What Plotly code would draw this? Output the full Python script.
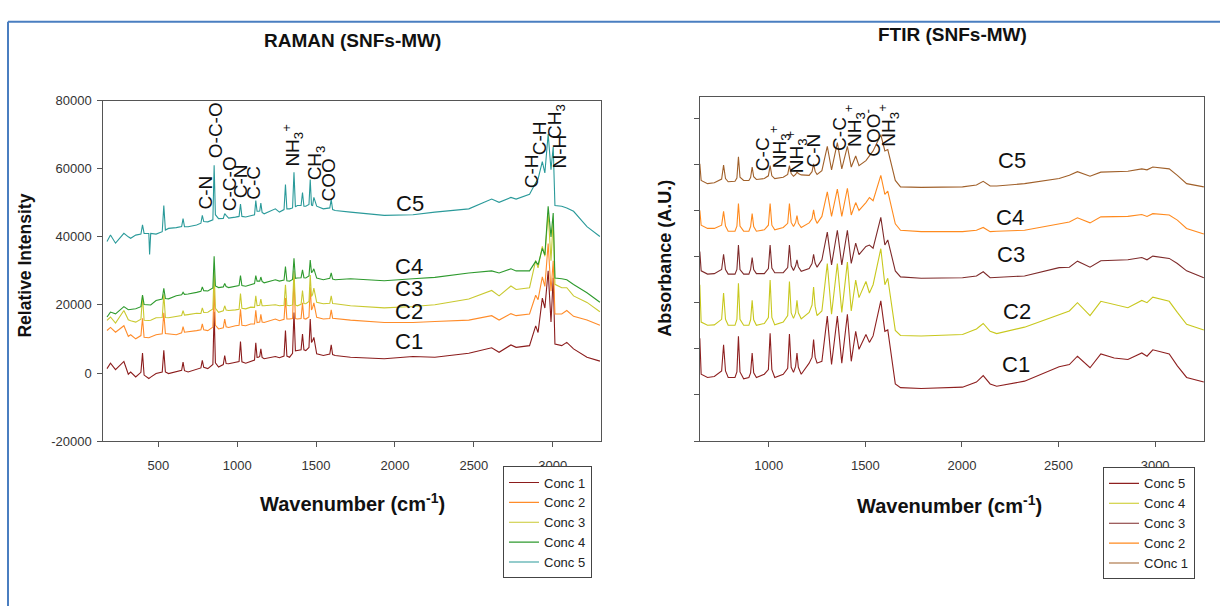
import plotly.graph_objects as go

W, H = 1220, 614

# ---------------- RAMAN spectra (wavenumber grid shared by all five samples)
RAMAN_WN = [
    175, 197, 229, 282, 310, 325, 357, 390, 400, 410,
    440, 445, 452, 486, 525, 535, 545, 565, 614, 648,
    657, 666, 689, 743, 770, 779, 788, 814, 846, 854,
    862, 882, 912, 921, 930, 946, 989, 1012, 1021, 1030,
    1054, 1086, 1110, 1118, 1126, 1135, 1143, 1150, 1158, 1171,
    1242, 1268, 1297, 1306, 1315, 1332, 1351, 1360, 1369, 1381,
    1405, 1414, 1423, 1435, 1455, 1463, 1471, 1478, 1486, 1504,
    1546, 1587, 1596, 1605, 1621, 1718, 1932, 2114, 2253, 2468,
    2613, 2660, 2735, 2768, 2853, 2892, 2907, 2934, 2950, 2971,
    2989, 3003, 3014, 3057, 3089, 3132, 3217, 3299,
]
RAMAN_C1 = [
    1300, 2900, 1000, 3400, -350, 300, -1150, 200, 5850, -600,
    -1600, -1400, -1200, -150, 300, 6650, 300, -150, 300, 800,
    3200, 700, 300, 1000, 1500, 3700, 1700, 1300, 2500, 18000,
    3000, 1750, 2500, 5150, 2800, 2750, 3200, 3400, 9250, 3300,
    2900, 3400, 3800, 8900, 4600, 4650, 4900, 7100, 4600, 4200,
    4850, 4500, 5000, 12450, 5000, 4650, 5800, 17800, 6500, 6600,
    6800, 11450, 6800, 6600, 7500, 15850, 9000, 9500, 10450, 5650,
    5150, 5600, 8250, 5400, 5150, 4650, 4200, 4850, 4650, 5800,
    7400, 6100, 8250, 7550, 8050, 13850, 11900, 22000, 19100, 30000,
    15000, 28000, 8500, 8050, 9000, 7100, 4650, 3500,
]
RAMAN_C2 = [
    12500, 13400, 12000, 13900, 10750, 11250, 10050, 11000, 16100, 10500,
    10350, 10450, 10550, 11250, 11500, 17700, 11600, 11550, 11250, 11800,
    13600, 12000, 12100, 12450, 12700, 14400, 12700, 12450, 13500, 25000,
    14000, 12950, 13300, 15850, 13600, 13400, 13900, 14000, 18700, 14000,
    13900, 14400, 14400, 18450, 14800, 14850, 15000, 17250, 15000, 14850,
    15850, 15350, 15800, 22050, 15900, 15850, 16000, 28000, 16000, 15850,
    16000, 20600, 16000, 15850, 16500, 25200, 18500, 19200, 20600, 16350,
    15850, 16000, 18550, 16100, 16050, 15550, 14850, 14850, 15150, 15550,
    16850, 15550, 17450, 16850, 17350, 22850, 21550, 28250, 25450, 38000,
    24000, 33000, 17350, 17350, 18350, 16650, 15550, 14000,
]
RAMAN_C3 = [
    15450, 16450, 14650, 18350, 15650, 15350, 14950, 15800, 22600, 15500,
    15450, 15450, 15500, 16250, 16300, 23100, 16300, 16250, 16550, 16900,
    18350, 17000, 17150, 17550, 17500, 19150, 17800, 17850, 18800, 30000,
    19000, 17850, 18300, 19750, 18500, 18350, 18550, 18700, 23350, 19000,
    18850, 19350, 19300, 22650, 19800, 19750, 19900, 21750, 19800, 19750,
    20050, 19750, 19900, 25950, 19900, 19750, 20000, 30000, 20000, 19750,
    20200, 24250, 20400, 20350, 21000, 28750, 22500, 23050, 24950, 20750,
    20350, 20500, 22650, 20400, 20350, 19750, 19150, 19550, 20050, 21750,
    24250, 22650, 25550, 24550, 25050, 33000, 30900, 37200, 34300, 47000,
    33000, 45000, 26050, 25050, 25050, 22650, 20750, 18000,
]
RAMAN_C4 = [
    16450, 17900, 17400, 19500, 18600, 18700, 18900, 19500, 22900, 20100,
    20000, 20000, 20000, 21300, 21700, 24900, 21900, 21800, 22700, 23000,
    23700, 23100, 23200, 23700, 24000, 25300, 24200, 24100, 25000, 34300,
    25600, 25100, 25300, 26300, 25400, 25100, 25500, 25700, 28600, 25700,
    25500, 26000, 26300, 28600, 27000, 27000, 27000, 28200, 26900, 26500,
    27400, 27000, 27300, 31300, 27100, 27000, 27500, 33700, 27800, 27900,
    28000, 30300, 28000, 27900, 28500, 33200, 29500, 29800, 30600, 27900,
    27400, 27800, 29400, 27600, 27400, 27700, 27100, 27700, 28100, 29400,
    30000, 29400, 30600, 30000, 30000, 32800, 31800, 36600, 34700, 49000,
    40000, 47000, 27900, 27700, 27400, 26000, 23600, 20800,
]
RAMAN_C5 = [
    38630, 40550, 38140, 41040, 40000, 39580, 40500, 40800, 43500, 41000,
    41000, 34800, 41000, 40800, 41500, 49190, 42000, 42480, 42700, 43000,
    45350, 43000, 42970, 43450, 44000, 46320, 44500, 44400, 45000, 61000,
    46500, 45350, 45400, 46800, 46300, 45500, 45800, 46000, 49650, 46000,
    45830, 46200, 46500, 50630, 47500, 47500, 47600, 49940, 47200, 46780,
    48220, 47270, 48000, 55390, 48200, 48220, 48500, 58950, 48800, 49190,
    49200, 53010, 49000, 49000, 49500, 56830, 49300, 49190, 51570, 49000,
    48220, 48500, 50910, 48000, 47750, 47270, 46320, 46490, 47270, 48220,
    51090, 50140, 51570, 51090, 52520, 55880, 57000, 62100, 58750, 70200,
    59700, 66400, 49200, 49000, 48500, 47500, 43000, 40100,
]
RAMAN_NAMES = ["Conc 1", "Conc 2", "Conc 3", "Conc 4", "Conc 5"]
RAMAN_COLORS = ["#8B1C1C", "#FF8C2A", "#C9C930", "#2E9A2E", "#2A9A9A"]

# ---------------- FTIR spectra (absorbance, stacked with offsets)
FTIR_WN = [
    643, 650, 683, 718, 756, 766, 776, 790, 825, 835,
    843, 851, 870, 897, 906, 914, 922, 936, 977, 998,
    1007, 1016, 1031, 1075, 1098, 1107, 1116, 1128, 1139, 1146,
    1153, 1168, 1209, 1224, 1232, 1240, 1250, 1275, 1303, 1325,
    1355, 1378, 1407, 1427, 1450, 1467, 1503, 1521, 1540, 1580,
    1601, 1616, 1655, 1682, 1789, 2003, 2075, 2110, 2146, 2180,
    2324, 2503, 2556, 2598, 2663, 2719, 2788, 2859, 2931, 2958,
    2988, 3073, 3115, 3163, 3252,
]
FTIR_C1 = [
    2.23, 1.45, 1.38, 1.40, 1.52, 2.09, 1.52, 1.38, 1.38, 1.50,
    2.27, 1.50, 1.35, 1.38, 1.48, 1.91, 1.48, 1.38, 1.45, 1.55,
    2.34, 1.55, 1.38, 1.45, 1.58, 2.32, 1.60, 1.49, 1.62, 1.91,
    1.60, 1.45, 1.69, 1.82, 2.20, 1.82, 1.69, 1.73, 2.71, 1.66,
    2.71, 1.69, 2.75, 1.73, 2.38, 1.99, 2.31, 2.14, 2.28, 3.04,
    2.38, 2.41, 1.24, 1.16, 1.14, 1.17, 1.28, 1.42, 1.24, 1.19,
    1.30, 1.61, 1.66, 1.84, 1.59, 1.89, 1.80, 1.77, 1.91, 1.84,
    1.98, 1.89, 1.63, 1.38, 1.28,
]
FTIR_C2 = [
    3.39, 2.58, 2.51, 2.52, 2.64, 3.21, 2.64, 2.51, 2.51, 2.64,
    3.42, 2.64, 2.51, 2.51, 2.63, 3.05, 2.63, 2.51, 2.55, 2.68,
    3.49, 2.68, 2.52, 2.58, 2.72, 3.46, 2.78, 2.66, 2.78, 3.05,
    2.78, 2.65, 2.79, 2.95, 3.34, 2.92, 2.72, 2.82, 3.85, 2.75,
    3.85, 2.79, 3.88, 2.82, 3.49, 3.11, 3.46, 3.21, 3.39, 4.17,
    3.39, 3.53, 2.40, 2.29, 2.28, 2.31, 2.43, 2.55, 2.38, 2.33,
    2.47, 2.75, 2.82, 3.00, 2.72, 3.03, 2.96, 2.89, 3.05, 3.00,
    3.12, 3.03, 2.79, 2.53, 2.41,
]
FTIR_C3 = [
    4.11, 3.69, 3.62, 3.63, 3.72, 4.05, 3.72, 3.62, 3.62, 3.72,
    4.25, 3.72, 3.62, 3.62, 3.72, 3.98, 3.72, 3.63, 3.63, 3.74,
    4.25, 3.75, 3.65, 3.65, 3.76, 4.25, 3.80, 3.70, 3.80, 3.93,
    3.78, 3.68, 3.74, 3.85, 4.05, 3.86, 3.77, 3.93, 4.53, 3.82,
    4.57, 3.82, 4.57, 3.85, 4.29, 4.04, 4.22, 4.25, 4.18, 4.85,
    4.25, 4.36, 3.69, 3.56, 3.53, 3.54, 3.58, 3.67, 3.54, 3.55,
    3.58, 3.76, 3.77, 3.90, 3.77, 3.91, 3.92, 3.93, 3.98, 3.93,
    4.01, 3.96, 3.85, 3.69, 3.54,
]
FTIR_C4 = [
    5.00, 4.68, 4.61, 4.61, 4.68, 4.98, 4.66, 4.55, 4.55, 4.66,
    5.15, 4.66, 4.55, 4.55, 4.65, 4.93, 4.65, 4.55, 4.58, 4.68,
    5.15, 4.68, 4.58, 4.63, 4.72, 5.15, 4.74, 4.65, 4.74, 4.89,
    4.72, 4.63, 4.73, 4.82, 5.01, 4.82, 4.72, 4.87, 5.40, 4.87,
    5.46, 4.87, 5.48, 4.90, 5.17, 5.00, 5.17, 5.28, 5.21, 5.76,
    5.35, 5.42, 4.71, 4.57, 4.54, 4.54, 4.57, 4.63, 4.54, 4.55,
    4.57, 4.71, 4.75, 4.84, 4.73, 4.86, 4.86, 4.87, 4.91, 4.87,
    4.93, 4.90, 4.79, 4.61, 4.49,
]
FTIR_C5 = [
    6.01, 5.65, 5.58, 5.60, 5.68, 5.98, 5.69, 5.62, 5.63, 5.70,
    6.16, 5.72, 5.65, 5.65, 5.71, 5.94, 5.73, 5.67, 5.69, 5.75,
    5.97, 5.75, 5.69, 5.72, 5.78, 5.97, 5.80, 5.74, 5.78, 5.83,
    5.80, 5.77, 5.76, 5.84, 6.01, 5.85, 5.78, 5.86, 6.39, 5.88,
    6.47, 5.90, 6.39, 5.94, 6.18, 5.97, 6.08, 6.19, 6.29, 6.64,
    6.29, 6.32, 5.65, 5.51, 5.50, 5.51, 5.55, 5.63, 5.53, 5.53,
    5.58, 5.69, 5.76, 5.84, 5.74, 5.83, 5.84, 5.85, 5.90, 5.88,
    5.94, 5.90, 5.76, 5.58, 5.51,
]
FTIR_NAMES = ["Conc 5", "Conc 4", "Conc 3", "Conc 2", "COnc 1"]
FTIR_COLORS = ["#8E2020", "#C8C81E", "#7E2A2A", "#FF8A1E", "#A0602A"]

# ---------------- text placed on the plots
RAMAN_TICKS = [500, 1000, 1500, 2000, 2500, 3000]
RAMAN_YTICKS = [-20000, 0, 20000, 40000, 60000, 80000]
FTIR_TICKS = [1000, 1500, 2000, 2500, 3000]
FTIR_YTICKS = [0, 1, 2, 3, 4, 5, 6, 7]

RAMAN_TAGS = [("C1", 2088, 9300), ("C2", 2090, 18200), ("C3", 2090, 24900),
              ("C4", 2092, 31400), ("C5", 2095, 49650)]
FTIR_TAGS = [("C1", 2280, 1.65), ("C2", 2286, 2.82), ("C3", 2255, 4.04),
             ("C4", 2250, 4.85), ("C5", 2260, 6.08)]

RAMAN_BANDS = [
    ("C-N", 802, 53000), ("O-C-O", 859, 71300), ("C-C-O", 949, 55500),
    ("C-N", 1019, 56400), ("C-C", 1107, 55900),
    ("NH<sub>3</sub><sup>+</sup>", 1354, 66800), ("CH<sub>3</sub>", 1500, 61600),
    ("COO", 1576, 56600), ("C-H", 2863, 59300), ("C-H", 2914, 69000),
    ("CH<sub>3</sub>", 3020, 74000), ("N-H", 3045, 65000),
]
FTIR_BANDS = [
    ("C-C", 965, 6.22), ("NH<sub>3</sub><sup>+</sup>", 1053, 6.37),
    ("NH<sub>3</sub><sup>+</sup>", 1141, 6.26), ("C-N", 1229, 6.30),
    ("C-C", 1369, 6.66), ("NH<sub>3</sub><sup>+</sup>", 1441, 6.85),
    ("COO<sup>-</sup>", 1534, 6.68), ("NH<sub>3</sub><sup>+</sup>", 1618, 6.84),
]

FONT = "Liberation Sans, Arial, sans-serif"


def fx(px):
    return px / W


def fy(py):
    return 1 - py / H


fig = go.Figure()

raman_sets = [RAMAN_C1, RAMAN_C2, RAMAN_C3, RAMAN_C4, RAMAN_C5]
for name, ys, col in zip(RAMAN_NAMES, raman_sets, RAMAN_COLORS):
    fig.add_trace(go.Scatter(x=RAMAN_WN, y=ys, mode="lines", name=name,
                             line=dict(color=col, width=1.1),
                             xaxis="x", yaxis="y", legend="legend"))

ftir_sets = [FTIR_C1, FTIR_C2, FTIR_C3, FTIR_C4, FTIR_C5]
for name, ys, col in zip(FTIR_NAMES, ftir_sets, FTIR_COLORS):
    fig.add_trace(go.Scatter(x=FTIR_WN, y=ys, mode="lines", name=name,
                             line=dict(color=col, width=1.1),
                             xaxis="x2", yaxis="y2", legend="legend2"))

axis_common = dict(showline=True, linecolor="#555555", linewidth=1, mirror=True,
                   ticks="outside", ticklen=5, tickcolor="#555555",
                   showgrid=False, zeroline=False,
                   tickfont=dict(family=FONT, size=13, color="#333333"))

legend_style = dict(xanchor="left", yanchor="top", bordercolor="#444444",
                    borderwidth=1, bgcolor="white", tracegroupgap=0,
                    font=dict(family=FONT, size=13, color="#222222"))

fig.update_layout(
    width=W, height=H,
    margin=dict(l=0, r=0, t=0, b=0),
    paper_bgcolor="white", plot_bgcolor="white",
    font=dict(family=FONT, color="#111111"),
    xaxis=dict(domain=[fx(103.3), fx(600.7)], range=[151.5, 3304], anchor="y",
               tickvals=RAMAN_TICKS, ticktext=[str(v) for v in RAMAN_TICKS],
               ticklabelstandoff=7, **axis_common),
    yaxis=dict(domain=[fy(445), fy(96)], range=[-20000, 80000], anchor="x",
               tickvals=RAMAN_YTICKS, ticktext=[str(v) for v in RAMAN_YTICKS],
               ticklabelstandoff=3, **axis_common),
    xaxis2=dict(domain=[fx(700), fx(1204)], range=[644, 3253], anchor="y2",
                tickvals=FTIR_TICKS, ticktext=[str(v) for v in FTIR_TICKS],
                ticklabelstandoff=7, **axis_common),
    yaxis2=dict(domain=[fy(445), fy(92.3)], range=[0, 7.457], anchor="x2",
                tickvals=FTIR_YTICKS, showticklabels=False, **axis_common),
    legend=dict(x=fx(503), y=fy(471), **legend_style),
    legend2=dict(x=fx(1103), y=fy(472), **legend_style),
    showlegend=True,
)


def paper_text(text, px, py, size, angle=0):
    return dict(text=text, x=fx(px), y=fy(py), xref="paper", yref="paper",
                xanchor="center", yanchor="middle", textangle=angle,
                showarrow=False, font=dict(size=size, family=FONT, color="#111111"))


ann = [
    paper_text("<b>RAMAN (SNFs-MW)</b>", 352, 34, 19),
    paper_text("<b>FTIR (SNFs-MW)</b>", 952, 28, 19),
    paper_text("<b>Relative Intensity</b>", 25, 265, 17.5, -90),
    paper_text("<b>Absorbance (A.U.)</b>", 665, 258, 18, -90),
    paper_text("<b>Wavenumber (cm<sup>-1</sup>)</b>", 352, 508, 20),
    paper_text("<b>Wavenumber (cm<sup>-1</sup>)</b>", 949, 510, 20),
]


def data_text(text, xv, yv, xr, yr, size, angle=0):
    return dict(text=text, x=xv, y=yv, xref=xr, yref=yr, xanchor="center",
                yanchor="middle", textangle=angle, showarrow=False,
                font=dict(size=size, family=FONT, color="#111111"))


for t, xv, yv in RAMAN_TAGS:
    ann.append(data_text(t, xv, yv, "x", "y", 22))
for t, xv, yv in FTIR_TAGS:
    ann.append(data_text(t, xv, yv, "x2", "y2", 22))
for t, xv, yv in RAMAN_BANDS:
    ann.append(data_text(t, xv, yv, "x", "y", 19, -90))
for t, xv, yv in FTIR_BANDS:
    ann.append(data_text(t, xv, yv, "x2", "y2", 19, -90))

fig.update_layout(annotations=ann)

# blue frame around the figure panel
fig.add_shape(type="line", xref="paper", yref="paper", x0=fx(8), x1=1, y0=fy(15), y1=fy(15),
              line=dict(color="#4A7EC0", width=2))
fig.add_shape(type="line", xref="paper", yref="paper", x0=fx(8), x1=fx(8), y0=fy(15), y1=0,
              line=dict(color="#4A7EC0", width=2))

fig.write_html("out.html")
